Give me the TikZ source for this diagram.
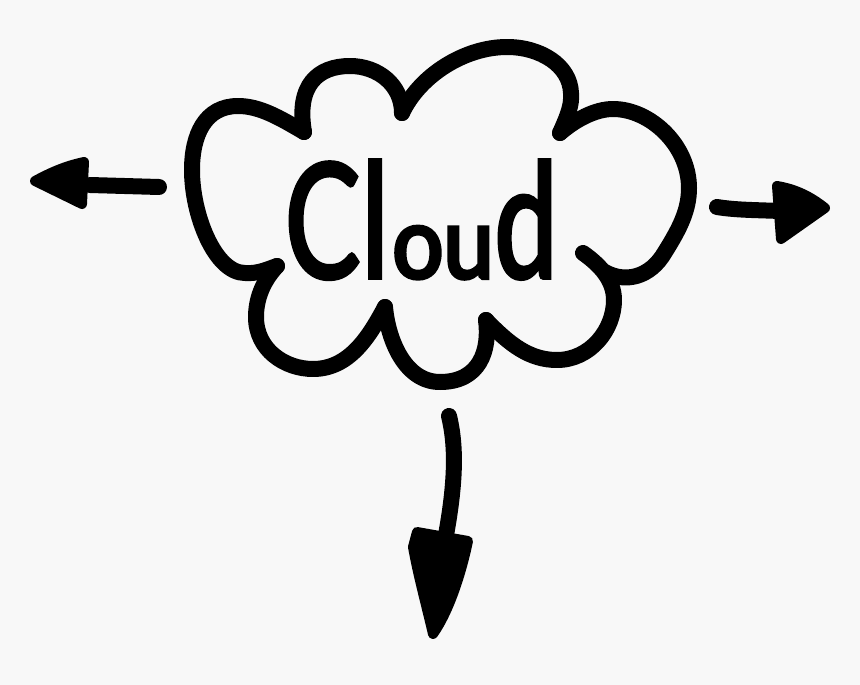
\documentclass[tikz,border=0pt]{standalone}
\usepackage{fontspec}
\newfontfamily\cloudfont[FakeStretch=0.7,FakeBold=2.4]{Lato}
\newfontfamily\lowfont[FakeStretch=0.9,FakeBold=4]{Lato}
\definecolor{paper}{HTML}{F8F8F8}
\tikzset{
  sketch/.style={line width=16pt,line cap=round,line join=round},
  tip/.style={fill,line width=10pt,line join=round},
}
\begin{document}
\begin{tikzpicture} [x=1pt,y=-1pt]
\fill[paper] (0,0) rectangle (860,685) ;
\useasboundingbox (0,0) rectangle (860,685) ;
\node [inner sep=0pt,anchor=base west] (word) at (285,278) {\cloudfont\fontsize{160}{160}\selectfont C\kern2pt l\kern4pt{\lowfont\fontsize{100}{100}\selectfont ou}\kern1pt d} ;
\draw[sketch] (402,113) .. controls (402,85) and (378,66) .. (350,66) .. controls (318,66) and (296,85) .. (304,132) ;
\draw[sketch] (304,132) .. controls (280,118) and (260,106) .. (238,106) .. controls (205,106) and (192,135) .. (192,170) .. controls (192,215) and (215,273) .. (245,273) .. controls (258,274) and (268,269) .. (277,266) ;
\draw[sketch] (277,266) .. controls (262,282) and (256,300) .. (256,317) .. controls (256,350) and (285,369) .. (313,369) .. controls (350,369) and (370,335) .. (385,307) ;
\draw[sketch] (385,307) .. controls (388,340) and (405,382) .. (440,382) .. controls (480,382) and (490,350) .. (486,320) ;
\draw[sketch] (486,320) .. controls (510,345) and (530,360) .. (557,360) .. controls (590,360) and (614,330) .. (614,300) .. controls (614,280) and (600,265) .. (583,253) ;
\draw[sketch] (605,272) .. controls (625,283) and (650,278) .. (665,252) .. controls (680,228) and (689,210) .. (689,188) .. controls (689,145) and (650,109) .. (613,109) .. controls (595,109) and (575,120) .. (560,133) ;
\draw[sketch] (560,133) .. controls (568,115) and (572,105) .. (571,93) .. controls (570,65) and (540,47) .. (507,47) .. controls (465,47) and (420,75) .. (402,113) ;
% arrows
\draw[sketch] (159,187) -- (90,185) ;
\draw[tip] (35,181) .. controls (55,170) and (70,165) .. (84,162) -- (82,204) -- cycle ;
\draw[sketch] (717,207) .. controls (735,210) and (755,210) .. (780,211) ;
\draw[tip] (825,208) .. controls (810,196) and (795,189) .. (777,186) -- (781,239) -- cycle ;
\draw[sketch] (449,416) .. controls (456,445) and (456,480) .. (446,535) ;
\draw[tip] (417,532) -- (468,541) .. controls (462,570) and (450,610) .. (433,634) .. controls (425,600) and (418,575) .. (413,547) -- cycle ;
\end{tikzpicture}
\end{document}
